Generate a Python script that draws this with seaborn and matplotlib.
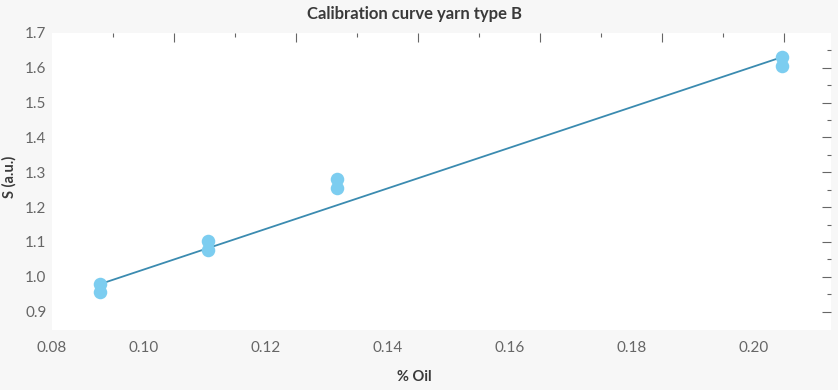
import matplotlib
matplotlib.use("Agg")
import pandas as pd
import matplotlib.pyplot as plt
import matplotlib.transforms as mtrans
from matplotlib.ticker import FixedLocator
import seaborn as sns

# ── DATA ───────────────────────────────────────────────
oil = [0.0879, 0.0879, 0.1056, 0.1056, 0.1267, 0.1267, 0.1997, 0.1997]
signal = [0.979, 0.956, 1.102, 1.076, 1.280, 1.254, 1.631, 1.605]
fit_oil = [0.0879, 0.1997]
fit_signal = [0.979, 1.631]

x_ticks = [0.08, 0.10, 0.12, 0.14, 0.16, 0.18, 0.20]
x_labels = ['0.08', '0.10', '0.12', '0.14', '0.16', '0.18', '0.20']
x_minor = [0.09, 0.11, 0.13, 0.15, 0.17, 0.19]
y_ticks = [0.9, 1.0, 1.1, 1.2, 1.3, 1.4, 1.5, 1.6, 1.7]
y_labels = ['0.9', '1.0', '1.1', '1.2', '1.3', '1.4', '1.5', '1.6', '1.7']
y_minor = [0.95, 1.05, 1.15, 1.25, 1.35, 1.45, 1.55, 1.65]

df = pd.DataFrame({'oil': oil, 'S': signal})
fit = pd.DataFrame({'oil': fit_oil, 'S': fit_signal})

# ── STYLE ──────────────────────────────────────────────
sns.set_theme(style='white')
plt.rcParams['font.family'] = ['Lato', 'DejaVu Sans']

fig = plt.figure(figsize=(8.38, 3.9), dpi=100, facecolor='#f7f7f7')
ax = fig.add_axes([52 / 838, 60 / 390, 779 / 838, 297 / 390])
ax.set_facecolor('white')

# ── PLOT ───────────────────────────────────────────────
sns.lineplot(data=fit, x='oil', y='S', color='#3b8bb0', linewidth=1.3, ax=ax, zorder=2)
sns.scatterplot(data=df, x='oil', y='S', color='#7ccdf0', s=95, linewidth=0, ax=ax, zorder=3)

ax.set_xlim(0.08, 0.2077)
ax.set_ylim(0.847, 1.7)
ax.xaxis.set_major_locator(FixedLocator(x_ticks))
ax.xaxis.set_minor_locator(FixedLocator(x_minor))
ax.yaxis.set_major_locator(FixedLocator(y_ticks))
ax.yaxis.set_minor_locator(FixedLocator(y_minor))
ax.set_xticklabels(x_labels)
ax.set_yticklabels(y_labels)

for s in ax.spines.values():
    s.set_visible(False)

ax.tick_params(which='both', direction='in', top=True, right=True,
               color='#666666', width=0.8, labelcolor='#666666', labelsize=11)
ax.tick_params(which='major', length=6.5)
ax.tick_params(which='minor', length=3)
ax.tick_params(axis='x', pad=8)
ax.tick_params(axis='y', pad=4)

# edge ticks are not drawn
xt = ax.xaxis.get_major_ticks()
yt = ax.yaxis.get_major_ticks()
for t in (xt[0], yt[-1]):
    t.tick1line.set_visible(False)
    t.tick2line.set_visible(False)

# x labels sit left of their ticks in the original
shift = mtrans.ScaledTranslation(-0.30, 0, fig.dpi_scale_trans)
for t in xt[1:]:
    t.label1.set_transform(t.label1.get_transform() + shift)

ax.set_xlabel('% Oil', fontsize=10.5, fontweight='bold', color='#3a3a3a')
ax.set_ylabel('S (a.u.)', fontsize=10.5, fontweight='bold', color='#3a3a3a')
ax.xaxis.set_label_coords((414 - 52) / 779, (330 - 370) / 297)
ax.yaxis.set_label_coords((17 - 52) / 779, (330 - 177) / 297)
fig.suptitle('Calibration curve yarn type B', x=414 / 838, y=1 - 14 / 390, va='center',
             fontsize=12, fontweight='bold', color='#3a3a3a')

plt.savefig('out.png', dpi=100, facecolor=fig.get_facecolor())
